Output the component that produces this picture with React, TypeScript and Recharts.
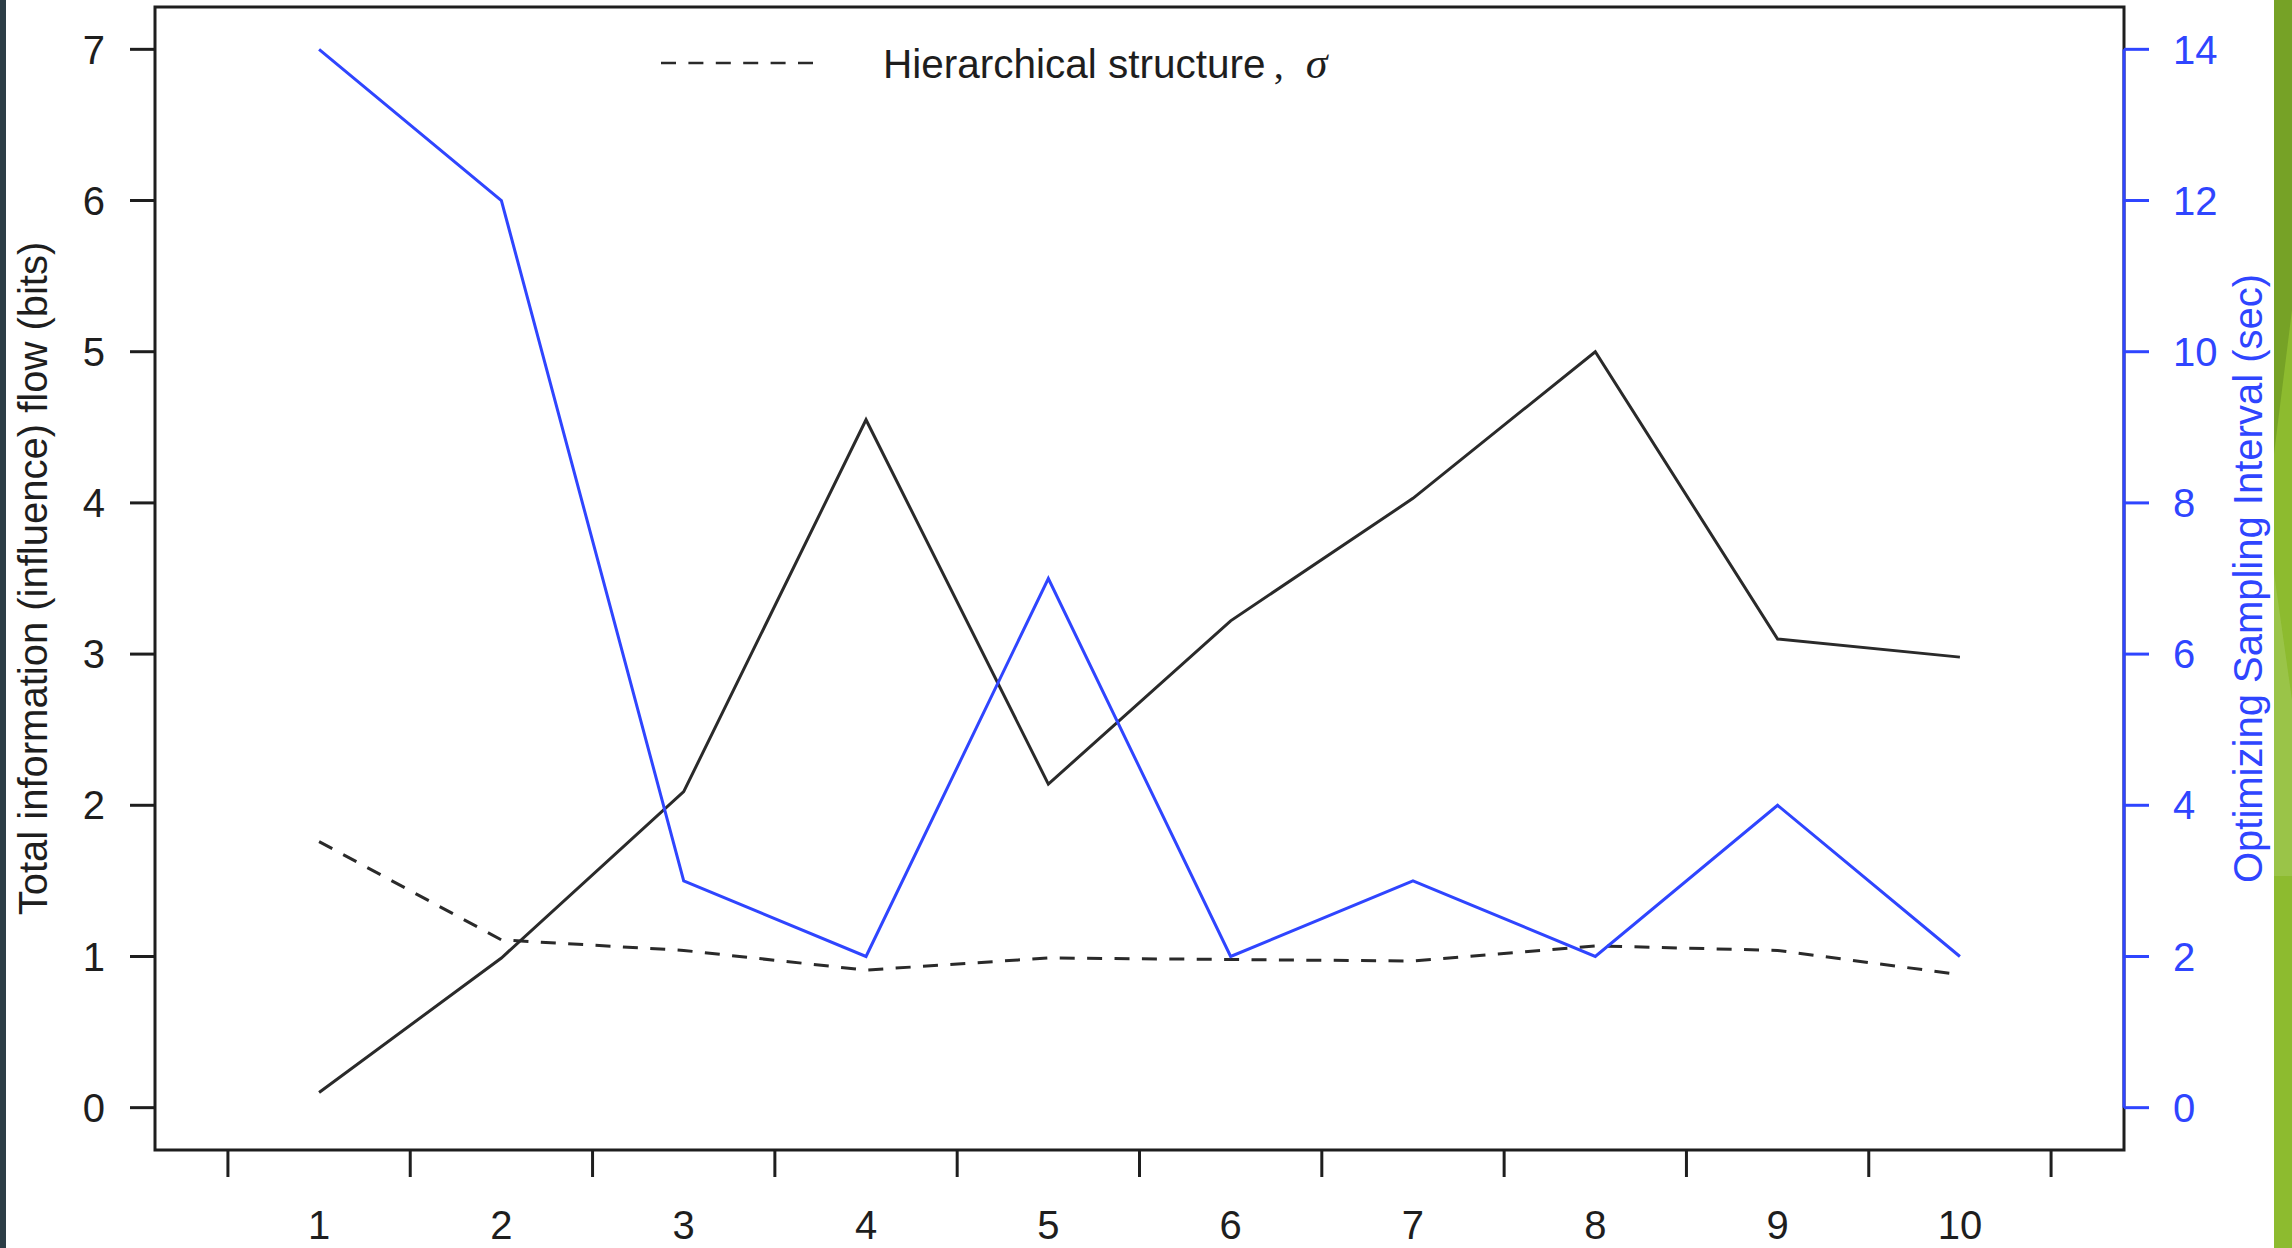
import React from 'react'
import { LineChart, Line, XAxis, YAxis, ReferenceArea, ReferenceLine, Legend } from 'recharts'

const groups = ['1', '2', '3', '4', '5', '6', '7', '8', '9', '10']
const infoFlow = [0.1, 0.99, 2.09, 4.55, 2.14, 3.22, 4.03, 5.0, 3.1, 2.98]
const hierarchy = [1.76, 1.11, 1.04, 0.91, 0.99, 0.98, 0.97, 1.07, 1.04, 0.88]
const samplingInterval = [14, 12, 3, 2, 7, 2, 3, 2, 4, 2]

const leftTicks = [0, 1, 2, 3, 4, 5, 6, 7]
const rightTicks = [0, 2, 4, 6, 8, 10, 12, 14]
// tick marks sit between groups, labels on the groups
const xTicks = [0.5, 1, 1.5, 2, 2.5, 3, 3.5, 4, 4.5, 5, 5.5, 6, 6.5, 7, 7.5, 8, 8.5, 9, 9.5, 10, 10.5]

const xDomain: [number, number] = [0.1, 10.9]
const leftDomain: [number, number] = [-0.28, 7.28]
const rightDomain: [number, number] = [-0.56, 14.56]

const SANS = '"Liberation Sans", Arial, Helvetica, sans-serif'
const SERIF = '"Liberation Serif", "Times New Roman", serif'
const INK = '#1e1e1e'
const LINE_INK = '#2a2a2a'
const BLUE = '#2f45ff'
const DASH = '15 12.4'

const data = groups.map((g, i) => ({
  x: i + 1,
  info: infoFlow[i],
  sigma: hierarchy[i],
  interval: samplingInterval[i],
}))

function GroupTick({ x, y, payload }: any) {
  const v = payload.value
  if (Number.isInteger(v)) {
    return (
      <text x={x} y={y + 89} textAnchor="middle" fontSize={40} fontFamily={SANS} fill={INK}>
        {groups[v - 1]}
      </text>
    )
  }
  return <line x1={x} y1={y} x2={x} y2={y + 27} stroke={INK} strokeWidth={3} />
}

function axisTitle(text: string, dx: number, color: string) {
  return ({ viewBox }: any) => {
    const cx = viewBox.x + dx
    const cy = viewBox.y + viewBox.height / 2
    return (
      <text
        x={cx}
        y={cy}
        transform={`rotate(-90 ${cx} ${cy})`}
        textAnchor="middle"
        fontSize={40}
        fontFamily={SANS}
        fill={color}
      >
        {text}
      </text>
    )
  }
}

function LegendKey() {
  return (
    <svg width={700} height={60}>
      <line x1={0} y1={29} x2={152} y2={29} stroke={LINE_INK} strokeWidth={2.6} strokeDasharray={DASH} />
      <text x={222} y={44} fontSize={40.5} fontFamily={SANS} fill={INK}>
        Hierarchical structure
        <tspan dx={8} fontFamily={SERIF}>,</tspan>
        <tspan dx={22} fontFamily={SERIF} fontStyle="italic" fontSize={44}>σ</tspan>
      </text>
    </svg>
  )
}

export default function App() {
  return (
    <div style={{ position: 'absolute', left: 0, top: 0, width: 2292, height: 1248, background: '#fff', overflow: 'hidden' }}>
      <LineChart width={2292} height={1248} data={data} margin={{ top: 7, right: 0, bottom: 0, left: 0 }}>
        <XAxis
          dataKey="x"
          type="number"
          domain={xDomain}
          ticks={xTicks}
          interval={0}
          height={98}
          axisLine={false}
          tickLine={false}
          tickSize={0}
          tickMargin={0}
          tick={<GroupTick />}
        />
        <YAxis
          yAxisId="left"
          domain={leftDomain}
          ticks={leftTicks}
          interval={0}
          width={155}
          axisLine={false}
          tickSize={25}
          tickMargin={25}
          tickLine={{ stroke: INK, strokeWidth: 3 }}
          tick={{ fontSize: 40, fontFamily: SANS, fill: INK }}
          label={axisTitle('Total information (influence) flow (bits)', 47, INK)}
        />
        <YAxis
          yAxisId="right"
          orientation="right"
          domain={rightDomain}
          ticks={rightTicks}
          interval={0}
          width={168}
          axisLine={false}
          tickSize={25}
          tickMargin={24}
          tickLine={{ stroke: BLUE, strokeWidth: 3 }}
          tick={{ fontSize: 40, fontFamily: SANS, fill: BLUE }}
          label={axisTitle('Optimizing Sampling Interval (sec)', 138, BLUE)}
        />
        <ReferenceArea
          yAxisId="left"
          x1={xDomain[0]}
          x2={xDomain[1]}
          y1={leftDomain[0]}
          y2={leftDomain[1]}
          fill="none"
          fillOpacity={0}
          stroke={INK}
          strokeWidth={3}
          ifOverflow="visible"
        />
        <ReferenceLine
          yAxisId="right"
          segment={[{ x: xDomain[1], y: 0 }, { x: xDomain[1], y: 14 }]}
          stroke={BLUE}
          strokeWidth={3}
          ifOverflow="visible"
        />
        <Line
          yAxisId="left"
          type="linear"
          dataKey="info"
          stroke={LINE_INK}
          strokeWidth={3}
          dot={false}
          isAnimationActive={false}
        />
        <Line
          yAxisId="left"
          type="linear"
          dataKey="sigma"
          name="Hierarchical structure"
          stroke={LINE_INK}
          strokeWidth={3}
          strokeDasharray={DASH}
          dot={false}
          isAnimationActive={false}
        />
        <Line
          yAxisId="right"
          type="linear"
          dataKey="interval"
          stroke={BLUE}
          strokeWidth={3}
          dot={false}
          isAnimationActive={false}
        />
        <Legend
          layout="vertical"
          align="center"
          verticalAlign="middle"
          wrapperStyle={{ left: 661, top: 34, width: 700, height: 60 }}
          content={() => <LegendKey />}
        />
      </LineChart>
      {/* slide edges */}
      <div style={{ position: 'absolute', left: 0, top: 0, width: 6, height: 1248, background: '#2c3d46' }} />
      <svg style={{ position: 'absolute', left: 2274, top: 0 }} width={18} height={1248}>
        <rect x={0} y={0} width={18} height={1248} fill="#8dbb2f" />
        <polygon points="0,0 18,0 18,310 0,454" fill="#76a226" />
        <polygon points="0,573 18,700 18,876 0,876" fill="#a3c95a" opacity={0.6} />
      </svg>
    </div>
  )
}
